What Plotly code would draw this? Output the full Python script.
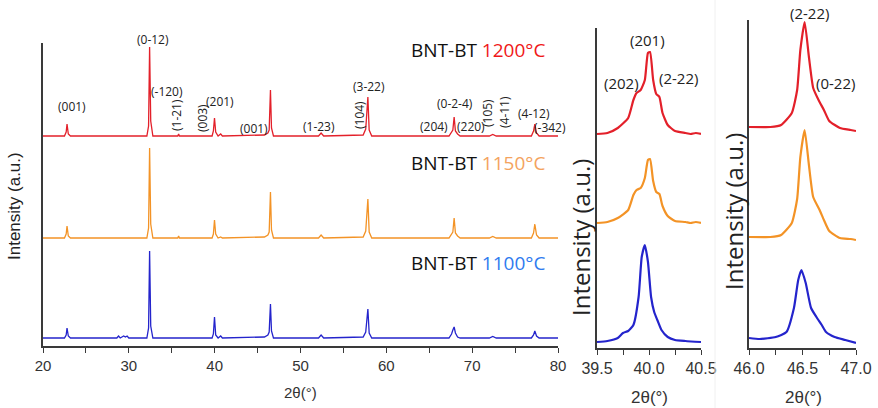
import plotly.graph_objects as go

W, H = 878, 408

# ---------------- data ----------------
series_names = ["1200°C", "1150°C", "1100°C"]

# main pattern (2θ, intensity above each trace's baseline, a.u.)
main_2theta = [20.0, 22.5, 22.7, 22.8, 22.95, 23.2, 28.6, 28.8, 29.0, 29.4, 29.6, 29.8, 30.0,
               32.1, 32.3, 32.42, 32.55, 32.8, 35.7, 35.8, 35.9,
               39.7, 39.85, 39.98, 40.12, 40.4, 40.7, 40.9,
               45.8, 46.2, 46.35, 46.5, 46.62, 46.85,
               52.1, 52.4, 52.7, 57.3, 57.6, 57.85, 58.0, 58.3,
               67.3, 67.6, 67.75, 67.9, 68.05, 68.3, 68.6,
               72.0, 72.4, 72.8, 76.9, 77.15, 77.3, 77.5, 77.8, 80.0]
main_1200 = [0, 0, 4, 12, 2, 0, 0, 0, 0, 0.5, 0, 0, 0,
             0, 10, 89, 15, 0, 0, 2, 0,
             0, 5, 18, 4, 0, 2, 0,
             1, 3, 6, 46, 8, 0,
             0, 3, 0, 1, 7, 39, 6, 0,
             0, 4, 6, 19, 5, 2, 0,
             0, 1.5, 0, 0, 5, 12, 3, 0, 0]
main_1150 = [0, 0, 4, 12, 2, 0, 0, 0, 0, 0.5, 0, 0, 0,
             0, 10, 90, 14, 0, 0, 2, 0,
             0, 4, 18, 4, 0, 1, 0,
             1, 3, 6, 46, 8, 0,
             0, 3, 0, 1, 7, 39, 6, 0,
             0, 4, 6, 20, 5, 2, 0,
             0, 1.5, 0, 0, 5, 14, 3, 0, 0]
main_1100 = [0, 0, 3, 10, 2, 0, 0, 2, 0, 2, 1, 2, 0,
             0, 10, 87, 12, 0, 0, 0, 0,
             0, 4, 21, 3, 0, 2, 0,
             1, 3, 6, 34, 7, 0,
             0, 3, 0, 1, 6, 29, 5, 0,
             0, 4, 8, 11, 5, 1, 0,
             0, 1.5, 0, 0, 3, 7, 2, 0, 0]
main_offsets = [210, 108, 8]

# zoom (201) region
z1_2theta_1200 = [39.5, 39.6, 39.7, 39.8, 39.85, 39.88, 39.92, 39.96, 39.99, 40.01, 40.04, 40.07,
                  40.1, 40.13, 40.18, 40.25, 40.35, 40.4, 40.45, 40.5]
z1_1200 = [0, 1, 6, 16, 34, 41, 44, 54, 81, 82, 54, 40, 37, 21, 9, 3, 1, 0, 1, 0]
z1_2theta_1150 = z1_2theta_1200
z1_1150 = [0, 1, 5, 13, 28, 33, 35, 45, 63, 64, 42, 31, 29, 17, 7, 2, 1, 0, 1, 0]
z1_2theta_1100 = [39.5, 39.6, 39.7, 39.75, 39.8, 39.85, 39.9, 39.93, 39.96, 39.99, 40.02, 40.05,
                  40.08, 40.12, 40.18, 40.25, 40.35, 40.5]
z1_1100 = [0, 1, 4, 9, 11, 17, 45, 85, 97, 80, 45, 30, 22, 12, 5, 2, 1, 0]
z1_offsets = [214, 125, 6]

# zoom (2-22) region
z2_2theta_1200 = [46.0, 46.2, 46.3, 46.4, 46.45, 46.48, 46.52, 46.56, 46.6, 46.65, 46.7, 46.75,
                  46.85, 46.95, 47.0]
z2_1200 = [0, 0, 2, 14, 37, 77, 105, 70, 39, 27, 17, 6, -1, -3, -4]
z2_2theta_1150 = [46.0, 46.2, 46.3, 46.4, 46.45, 46.48, 46.52, 46.56, 46.6, 46.66, 46.7, 46.75,
                  46.85, 46.95, 47.0]
z2_1150 = [0, 0, 2, 14, 38, 80, 107, 72, 40, 27, 17, 6, -1, -2, -3]
z2_2theta_1100 = [46.0, 46.1, 46.25, 46.35, 46.42, 46.46, 46.49, 46.53, 46.58, 46.63, 46.68, 46.72,
                  46.8, 46.9, 47.0]
z2_1100 = [0, -1, 1, 6, 30, 58, 68, 55, 30, 21, 13, 6, 1, -2, -5]
z2_offsets = [221, 111, 10]

main_hkl = ["(001)", "(0-12)", "(-120)", "(1-21)", "(003)", "(201)", "(001)", "(1-23)", "(104)",
            "(3-22)", "(0-2-4)", "(204)", "(220)", "(105)", "(4-11)", "(4-12)", "(-342)"]
z1_hkl = ["(201)", "(202)", "(2-22)"]
z2_hkl = ["(2-22)", "(0-22)"]

main_ticks = [20, 30, 40, 50, 60, 70, 80]
z1_ticks = [39.5, 40.0, 40.5]
z2_ticks = [46.0, 46.5, 47.0]

# ---------------- styles / positions (pixels) ----------------
line_colors = ["#E3202A", "#F39326", "#2424CC"]
text_colors = ["#F01818", "#F4A35E", "#2F7BEF"]
AX = "#3a3a3a"

main_hkl_pos = [(72, 107, 0), (153, 39, 0), (167, 92, 0), (176, 115, -90), (202, 118, -90),
                (220, 101, 0), (254, 128, 0), (319, 126, 0), (359, 115, -90), (369, 86, 0),
                (455, 103, 0), (434, 126, 0), (471, 126, 0), (487, 113, -90), (504, 112, -90),
                (534, 113, 0), (550, 127, 0)]
z1_hkl_pos = [(647, 40), (621, 83), (678, 78)]
z2_hkl_pos = [(809, 13), (835, 83)]
label_pos_x = 547
label_pos_y = [50, 163, 263]

fig = go.Figure()

for i in range(3):
    fig.add_trace(go.Scatter(x=main_2theta, y=[v + main_offsets[i] for v in [main_1200, main_1150, main_1100][i]],
                             mode="lines", line=dict(color=line_colors[i], width=1.3),
                             xaxis="x", yaxis="y", showlegend=False))
z1x = [z1_2theta_1200, z1_2theta_1150, z1_2theta_1100]
z1y = [z1_1200, z1_1150, z1_1100]
z2x = [z2_2theta_1200, z2_2theta_1150, z2_2theta_1100]
z2y = [z2_1200, z2_1150, z2_1100]
for i in range(3):
    fig.add_trace(go.Scatter(x=z1x[i], y=[v + z1_offsets[i] for v in z1y[i]], mode="lines",
                             line=dict(color=line_colors[i], width=2.2, shape="spline", smoothing=0.5),
                             xaxis="x2", yaxis="y2", showlegend=False))
    fig.add_trace(go.Scatter(x=z2x[i], y=[v + z2_offsets[i] for v in z2y[i]], mode="lines",
                             line=dict(color=line_colors[i], width=2.2, shape="spline", smoothing=0.5),
                             xaxis="x3", yaxis="y3", showlegend=False))

def px(xp):
    return xp / W

def py(yp):
    return 1 - yp / H

tickfont_main = dict(family="Liberation Sans, Arial", size=15, color="#333")
tickfont_z = dict(family="Liberation Sans, Arial", size=16, color="#333")

def xaxis(domain, rng, ticks, minor, font, fmt):
    return dict(domain=domain, range=rng, showline=True, linecolor=AX, linewidth=1.5,
                ticks="outside", ticklen=5, tickwidth=1.2, tickcolor=AX,
                tickvals=ticks, ticktext=[fmt % t for t in ticks],
                minor=dict(dtick=minor, ticks="outside", ticklen=5, tickwidth=1.2, tickcolor=AX),
                tickfont=font, showgrid=False, zeroline=False, fixedrange=True, automargin=False)

def yaxis(domain, rng, anchor):
    return dict(domain=domain, range=rng, showline=True, linecolor=AX, linewidth=1.5,
                showticklabels=False, ticks="", showgrid=False, zeroline=False, anchor=anchor,
                automargin=False)

fig.update_layout(
    width=W, height=H, margin=dict(l=0, r=0, t=0, b=0, pad=0, autoexpand=False),
    paper_bgcolor="white", plot_bgcolor="white",
    xaxis=dict(xaxis([px(43), px(558)], [20, 80], main_ticks, 5, tickfont_main, "%g"), anchor="y"),
    yaxis=yaxis([py(346), py(43)], [0, 303], "x"),
    xaxis2=dict(xaxis([px(597), px(701)], [39.5, 40.5], z1_ticks, 0.25, tickfont_z, "%.1f"), anchor="y2"),
    yaxis2=yaxis([py(348), py(28)], [0, 320], "x2"),
    xaxis3=dict(xaxis([px(749), px(856)], [46.0, 47.0], z2_ticks, 0.25, tickfont_z, "%.1f"), anchor="y3"),
    yaxis3=yaxis([py(348), py(20)], [0, 328], "x3"),
    showlegend=False,
)

def A(x, y, text, font, angle=0, xanchor="center"):
    return dict(x=px(x), y=py(y), xref="paper", yref="paper", text=text, showarrow=False,
                textangle=angle, font=font, xanchor=xanchor, yanchor="middle")

ann = []
hfont = dict(family="Open Sans", size=12, color="#222")
for t, (x, y, a) in zip(main_hkl, main_hkl_pos):
    ann.append(A(x, y, t, hfont, a))
zfont = dict(family="Open Sans", size=15, color="#222")
for t, (x, y) in zip(z1_hkl + z2_hkl, z1_hkl_pos + z2_hkl_pos):
    ann.append(A(x, y, t, zfont))
for i in range(3):
    ann.append(A(label_pos_x, label_pos_y[i],
                 'BNT-BT <span style="color:%s">%s</span>' % (text_colors[i], series_names[i]),
                 dict(family="Open Sans", size=19, color="#111"), xanchor="right"))
# axis titles
ann.append(A(300, 392, "2θ(°)", dict(family="Liberation Sans, Arial", size=15, color="#333")))
ann.append(A(649, 397, "2θ(°)", dict(family="Liberation Sans, Arial", size=17, color="#333")))
ann.append(A(803, 397, "2θ(°)", dict(family="Liberation Sans, Arial", size=17, color="#333")))
ann.append(A(14, 206, "Intensity (a.u.)", dict(family="Liberation Sans, Arial", size=17, color="#222"), -90))
ann.append(A(580, 238, "Intensity (a.u.)", dict(family="Open Sans", size=24, color="#222"), -90))
ann.append(A(733, 212, "Intensity (a.u.)", dict(family="Open Sans", size=24, color="#222"), -90))
fig.update_layout(annotations=ann)

# faint panel separator
fig.add_shape(type="line", xref="paper", yref="paper", x0=px(715), x1=px(715), y0=0, y1=1,
              line=dict(color="#f0f0f0", width=1))

fig.write_html("out.html")
